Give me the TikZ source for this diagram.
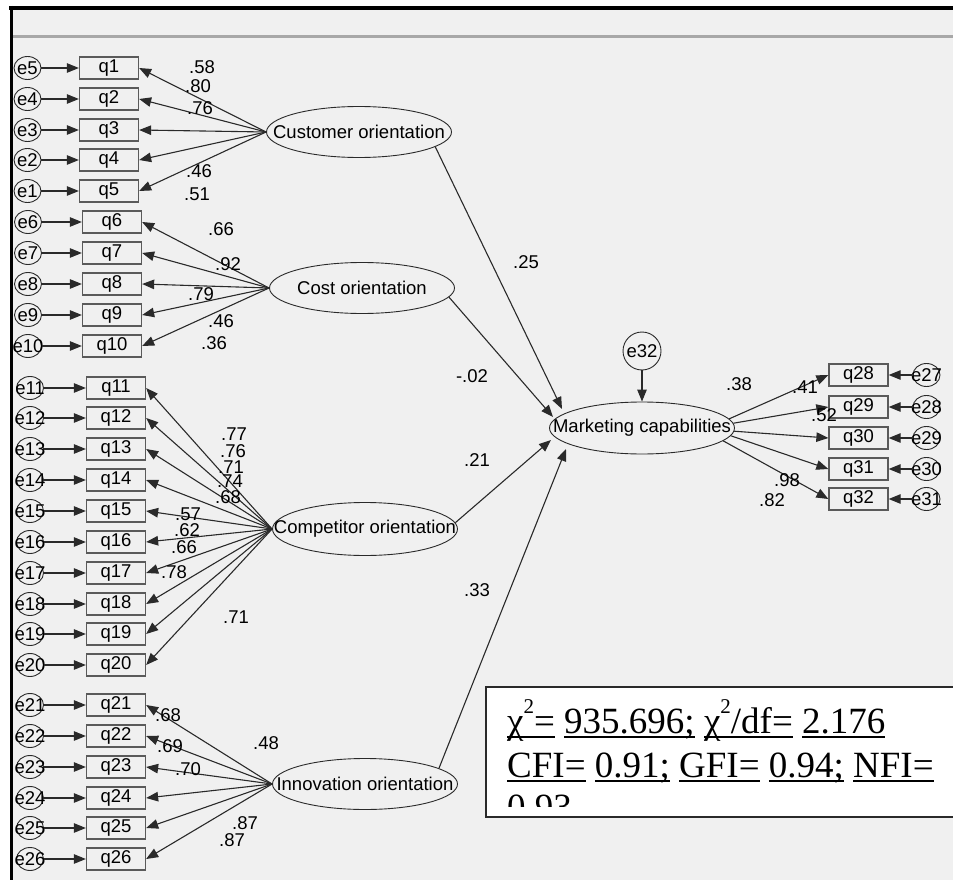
\documentclass[tikz,border=0pt]{standalone}
\usepackage{fontspec}
\setmainfont{Liberation Sans}
\newfontfamily\tnr{Liberation Serif}
\usetikzlibrary{arrows.meta,shapes.geometric}
\definecolor{bg}{HTML}{F0F0F0}
\definecolor{ln}{HTML}{2A2A2A}
\definecolor{bx}{HTML}{5A5A5A}
\definecolor{sep}{HTML}{A8A8A8}
\newcommand{\ulx}[1]{\sbox0{#1}\rlap{\rule[-5pt]{\wd0}{2pt}}\usebox0}
\begin{document}
\begin{tikzpicture}[x=1pt,y=-1pt,
  every node/.style={font=\fontsize{18.5}{20}\selectfont},
  ind/.style={draw=bx, line width=1.3pt, fill=bg, minimum width=59pt, minimum height=22pt, inner sep=0pt},
  lat/.style={draw=ln, line width=0.9pt, ellipse, fill=bg, minimum width=185pt, minimum height=51pt, inner sep=0pt},
  errc/.style={draw=ln, line width=0.9pt, ellipse, minimum width=27pt, minimum height=23pt, inner sep=0pt},
  arr/.style={draw=ln, line width=1.1pt, -{Triangle[length=12pt,width=9.5pt]}},
  lbl/.style={inner sep=0pt}
]
\useasboundingbox (0,0) rectangle (953,880);
\fill[white] (0,0) rectangle (953,880);
\fill[bg] (11,8) rectangle (953,880);
\draw[black, line width=4pt] (9,8) -- (953,8);
\draw[black, line width=3.5pt] (11.25,6) -- (11.25,880);
\draw[sep, line width=2.5pt] (13,36.5) -- (953,36.5);

% latent variables
\node[lat, label={[lbl]center:Customer orientation}] (cust) at (359,132) {};
\node[lat, label={[lbl]center:Cost orientation}] (cost) at (362,288) {};
\node[lat, minimum height=53pt, label={[lbl]center:Competitor orientation}] (comp) at (365,529) {};
\node[lat, label={[lbl]center:Innovation orientation}] (innov) at (365,784) {};
\node[lat, minimum height=52pt, label={[lbl]center:Marketing capabilities}] (mc) at (642,428) {};
\node[draw=ln, line width=0.9pt, circle, minimum size=38pt, inner sep=0pt, label={[lbl]center:e32}] (e32) at (642,351) {};

% customer group
\foreach \n/\y/\e in {1/68/5, 2/99/4, 3/130/3, 4/160/2, 5/191/1} {
  \node[ind] (q\n) at (109,\y) {q\n};
  \node[errc, label={[lbl]center:e\e}] (e\e) at (27.5,\y) {};
  \draw[arr] (e\e) -- (q\n);
  \draw[arr] (cust.west) -- (q\n.east);
}
% cost group
\foreach \n/\y in {6/222, 7/253, 8/284, 9/315, 10/346} {
  \node[ind] (q\n) at (112,\y) {q\n};
  \node[errc, label={[lbl]center:e\n}] (e\n) at (28,\y) {};
  \draw[arr] (e\n) -- (q\n);
  \draw[arr] (cost.west) -- (q\n.east);
}
% competitor group
\foreach \n/\y in {11/388, 12/418, 13/449, 14/480, 15/511, 16/542, 17/573, 18/604, 19/634, 20/665} {
  \node[ind] (q\n) at (116,\y) {q\n};
  \node[errc, label={[lbl]center:e\n}] (e\n) at (30,\y) {};
  \draw[arr] (e\n) -- (q\n);
  \draw[arr] (comp.west) -- (q\n.east);
}
% innovation group
\foreach \n/\y in {21/705, 22/736, 23/767, 24/798, 25/828, 26/859} {
  \node[ind] (q\n) at (116,\y) {q\n};
  \node[errc, label={[lbl]center:e\n}] (e\n) at (30,\y) {};
  \draw[arr] (e\n) -- (q\n);
  \draw[arr] (innov.west) -- (q\n.east);
}
% marketing capabilities indicators
\foreach \n/\y/\e/\a in {28/375/27/6, 29/407/28/3, 30/438/29/-2, 31/469/30/-5, 32/499/31/-9} {
  \node[ind] (q\n) at (858.5,\y) {q\n};
  \node[errc, label={[lbl]center:e\e}] (e\e) at (926.5,\y) {};
  \draw[arr] (e\e) -- (q\n);
  \draw[arr] (mc.\a) -- (q\n.west);
}

% structural paths
\coordinate (t1) at (562,409);
\coordinate (t2) at (553,417);
\coordinate (t3) at (551,440);
\coordinate (t4) at (566,449);
\draw[arr] (cust.-11) -- (t1);
\draw[arr] (cost.-6) -- (t2);
\draw[arr] (comp.4) -- (t3);
\draw[arr] (innov.12) -- (t4);
\draw[arr] (e32) -- (mc);

% loadings
\foreach \t/\x/\y in {.58/202/67, .80/198/86, .76/200/108, .46/199/171, .51/197/194,
  .66/221/229, .92/228/264, .79/201/294, .46/221/321, .36/214/343,
  .77/234/434, .76/233/451, .71/231/467, .74/230/481, .68/228/497, .57/188/514, .62/187/530, .66/184/547, .78/174/572, .71/236/617,
  .68/168/715, .69/170/746, .70/188/769, .48/266/743, .87/245/823, .87/232/840,
  .25/526/262, -.02/472/376, .21/477/460, .33/477/590,
  .38/739/384, .41/805/387, .52/824/415, .98/787/480, .82/772/500} {
  \node[lbl] at (\x,\y) {\t};
}

% fit box
\draw[draw=ln, line width=1.2pt, fill=white] (486,687) rectangle (960,817);
\begin{scope}
\clip (487,688) rectangle (953,806);
\node[lbl, anchor=base west, font=\tnr\fontsize{37}{42}\selectfont] at (507,733)
  {\ulx{χ\raisebox{20pt}{\fontsize{21}{21}\selectfont 2}=} \ulx{935.696;} \ulx{χ\raisebox{20pt}{\fontsize{21}{21}\selectfont 2}/df=} \ulx{2.176}};
\node[lbl, anchor=base west, font=\tnr\fontsize{37}{42}\selectfont] at (507,777)
  {\ulx{CFI=} \ulx{0.91;} \ulx{GFI=} \ulx{0.94;} \ulx{NFI=}};
\node[lbl, anchor=base west, font=\tnr\fontsize{37}{42}\selectfont] at (507,819)
  {\ulx{0.93}};
\end{scope}
\end{tikzpicture}
\end{document}
